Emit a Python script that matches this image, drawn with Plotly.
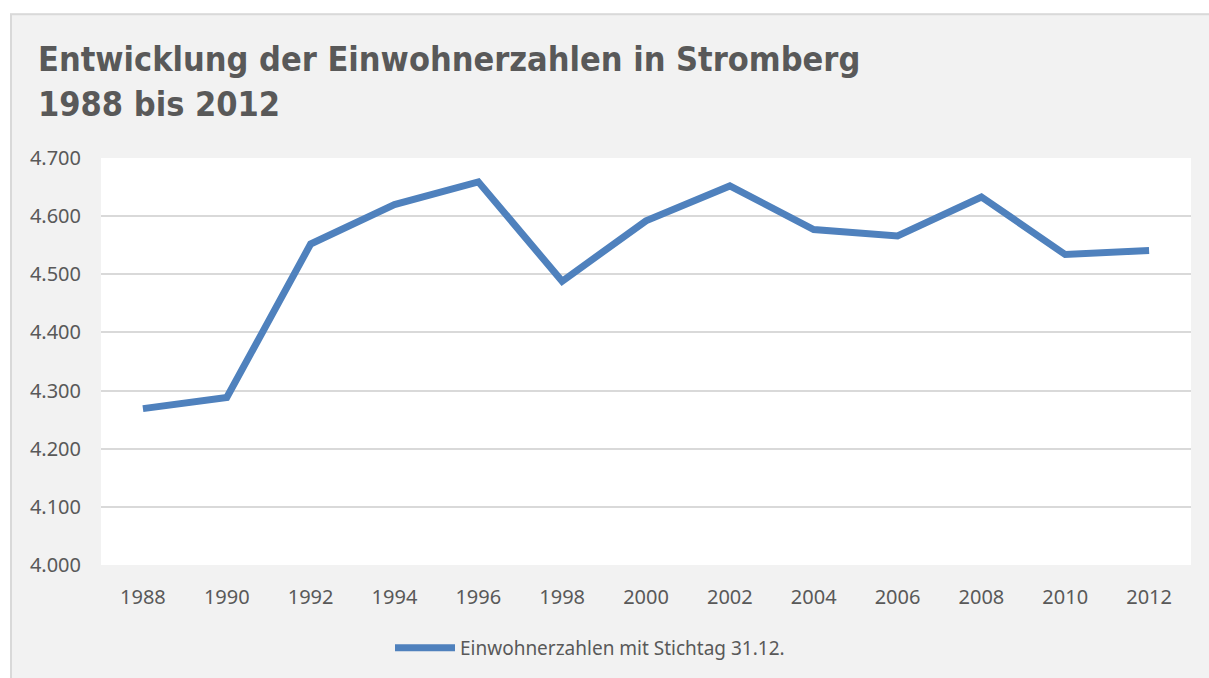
import plotly.graph_objects as go

years = ["1988", "1990", "1992", "1994", "1996", "1998", "2000",
         "2002", "2004", "2006", "2008", "2010", "2012"]
einwohner = [4269, 4288, 4552, 4620, 4659, 4488, 4592,
             4652, 4577, 4566, 4633, 4534, 4541]
series_name = "Einwohnerzahlen mit Stichtag 31.12."
title_lines = ["Entwicklung der Einwohnerzahlen in Stromberg", "1988 bis 2012"]

W, H = 1209, 678
L, R, T, B = 101, 1191, 158, 566  # plot area in pixels


def px_x(p):
    return (p - L) / (R - L)


def px_y(p):
    return (B - p) / (B - T)


text_col = "#595959"
tick_font = dict(family="Noto Sans, Open Sans, sans-serif", size=20, color=text_col)
legend_font = dict(family="Noto Sans, Open Sans, sans-serif", size=19, color=text_col)
title_font = dict(family="DejaVu Sans Condensed, DejaVu Sans, sans-serif",
                  size=34, color=text_col, weight="bold")

fig = go.Figure()
fig.add_trace(go.Scatter(
    x=years, y=einwohner, mode="lines", name=series_name,
    line=dict(color="#4f81bd", width=7),
))

shapes = [
    # white strips outside the gray panel
    dict(type="rect", xref="paper", yref="paper", layer="below",
         x0=px_x(-5), x1=px_x(W + 5), y0=px_y(13), y1=px_y(-5),
         fillcolor="white", line=dict(width=0)),
    dict(type="rect", xref="paper", yref="paper", layer="below",
         x0=px_x(-5), x1=px_x(10), y0=px_y(H + 5), y1=px_y(-5),
         fillcolor="white", line=dict(width=0)),
    # panel border
    dict(type="line", xref="paper", yref="paper",
         x0=px_x(10), x1=px_x(W + 5), y0=px_y(14), y1=px_y(14),
         line=dict(color="#d9d9d9", width=2)),
    dict(type="line", xref="paper", yref="paper",
         x0=px_x(11), x1=px_x(11), y0=px_y(14), y1=px_y(H + 5),
         line=dict(color="#d9d9d9", width=2)),
]

annotations = [
    dict(text=title_lines[0], xref="paper", yref="paper",
         x=px_x(36), y=px_y(59), xanchor="left", yanchor="middle",
         showarrow=False, font=title_font),
    dict(text=title_lines[1], xref="paper", yref="paper",
         x=px_x(36), y=px_y(104), xanchor="left", yanchor="middle",
         showarrow=False, font=title_font),
]

fig.update_layout(
    width=W, height=H,
    margin=dict(l=L, r=W - R, t=T, b=H - B, pad=0),
    paper_bgcolor="#f2f2f2",
    plot_bgcolor="white",
    separators=",.",
    shapes=shapes,
    annotations=annotations,
    xaxis=dict(
        type="category", range=[-0.5, len(years) - 0.5],
        showgrid=False, showline=False, zeroline=False,
        ticks="", tickfont=tick_font, ticklabelstandoff=18,
    ),
    yaxis=dict(
        range=[4000, 4700], dtick=100, tick0=4000, tickformat=",d",
        showgrid=True, gridcolor="#d9d9d9", gridwidth=1.5,
        showline=False, zeroline=False,
        ticks="", tickfont=tick_font, ticklabelstandoff=19,
    ),
    showlegend=True,
    legend=dict(
        orientation="h", x=px_x(390), xanchor="left",
        y=px_y(648), yanchor="middle",
        font=legend_font, bgcolor="rgba(0,0,0,0)", itemwidth=60,
    ),
)

fig.write_html("out.html", config={"displayModeBar": False},
               post_script="document.body.style.margin='0px';document.body.style.overflow='hidden';")
